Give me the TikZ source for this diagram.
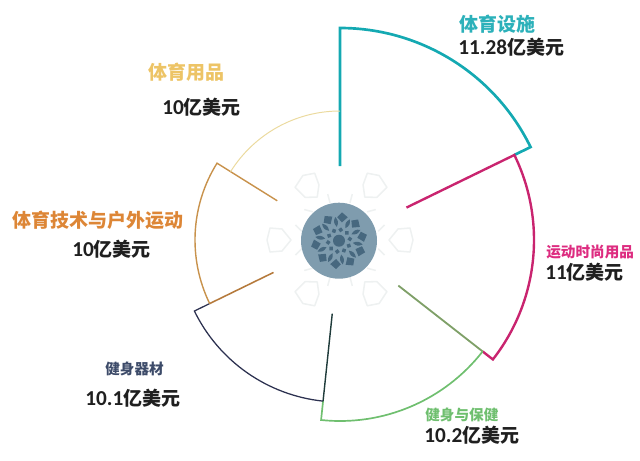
\documentclass[tikz,border=0pt]{standalone}
\usepackage{fontspec}
\setmainfont{Noto Sans CJK SC}
\newfontfamily\numfont{Carlito}[Scale=1.12]
\definecolor{cteal}{HTML}{14A9B2}
\definecolor{cmagenta}{HTML}{C9246F}
\definecolor{colive}{HTML}{7FA068}
\definecolor{cgreen}{HTML}{6FBF6F}
\definecolor{cnavy}{HTML}{2C3150}
\definecolor{cdark}{HTML}{1F3B3A}
\definecolor{cbrown}{HTML}{B57A3C}
\definecolor{corange}{HTML}{C8924C}
\definecolor{cyellow}{HTML}{EBDA9E}
\definecolor{tyellow}{HTML}{EDC466}
\definecolor{torange}{HTML}{DD8636}
\definecolor{tmagenta}{HTML}{DD2C80}
\definecolor{tnavy}{HTML}{3D4B69}
\definecolor{ldisc}{HTML}{7F9CAE}
\definecolor{ldark}{HTML}{47687F}
\definecolor{lpale}{HTML}{EEF1F1}
\tikzset{
    big/.style={font=\fontsize{13.5}{16}\selectfont\bfseries, inner sep=0pt, anchor=west},
    small/.style={font=\fontsize{10.4}{12}\selectfont\bfseries, inner sep=0pt, anchor=west},
    val/.style={style=big, text=black!88},
    r/.style={line width=#1, line join=miter}, % ring pieces
    pale/.style={draw=lpale, line width=1.1pt, line join=round} % marks round the disc
}
\begin{document}
\begin{tikzpicture}[x=0.25mm, y=0.25mm]
        \useasboundingbox (-340, -220) rectangle (300, 240);

        \coordinate (tealin) at (90:74);
        \coordinate (tealtop) at (90:212);
        \coordinate (tealend) at (26:194);
        \coordinate (magin) at (26:74);
        \coordinate (magend) at (-38:181);
        \coordinate (grnin) at (-38:74);
        \coordinate (grnend) at (-96:162);
        \coordinate (drkin) at (-96:74);
        \coordinate (navend) at (-154:145);
        \coordinate (brnin) at (-154:74);
        \coordinate (orgin) at (148:74);
        \coordinate (orgtop) at (148:145);
        \coordinate (yelstart) at (148:129);

        \draw[r=1.9pt, cteal] (tealin) -- (tealtop)
        arc[start angle=90, end angle=26, radius=212] -- (tealend);
        \draw[r=1.7pt, cmagenta] (magin) -- (tealend)
        arc[start angle=26, end angle=-38, radius=194] -- (magend);
        \draw[r=1.3pt, colive] (grnin) -- (magend);
        \draw[r=1.2pt, cgreen] (magend)
        arc[start angle=-38, end angle=-96, radius=181] -- (grnend);
        \draw[r=1pt, cdark] (drkin) -- (grnend);
        \draw[r=0.9pt, cnavy] (grnend)
        arc[start angle=-96, end angle=-154, radius=162] -- (navend);
        \draw[r=1.1pt, cbrown] (brnin) -- (navend);
        \draw[r=1pt, corange] (orgin) -- (orgtop)
        arc[start angle=148, end angle=206, radius=145];
        \draw[r=0.7pt, cyellow] (yelstart)
        arc[start angle=148, end angle=90, radius=129];

        \foreach \x/\y/\t in {62/0/180, -62/0/0, 34/54/-6, -32/54/186, 34/-53/6, -32/-53/174}
        \draw[pale, shift={(\x,\y)}, rotate=\t]
        (13,0) -- (4,11) -- (-8,12) -- (-11,0) -- (-8,-12) -- (4,-11) -- cycle;

        \foreach \a/\d in {16/45, 43/15, 75/75, 105/105, 137/165, 164/135,
          -16/-45, -43/-15, -75/-75, -105/-105, -137/-165, -164/-135}
        \draw[pale, shift={(\a:43)}] (\d:-4.5) -- (\d:4.5);

        \node[circle, fill=ldisc, minimum size=76*0.25mm, inner sep=0pt] (disc) at (-1, -0.7) {};
        \begin{scope}[shift={(disc.center)}]
          \fill[ldark] (0,0) circle (6);
          \foreach \a in {9, 45, ..., 333} {
            \fill[ldark, rotate=\a] (18.5,0) -- (23,5.5) -- (28.5,1.5) -- (24.5,-5) -- cycle;
            \fill[ldark, rotate=\a+18] (14,0) .. controls (18,2.6) and (20,2.6) .. (24,0)
            .. controls (20,-2.6) and (18,-2.6) .. cycle;
            \fill[ldark, rotate=\a] (8.5,0) -- (11,2.5) -- (13.5,0) -- (11,-2.5) -- cycle;
          }
        \end{scope}

        \node[big, text=cteal!90!white] (n1) at (119, 216) {体育设施};
        \node[val] (v1) at (118, 193) {{\numfont 11.28}亿美元};
        \node[small, text=tmagenta] (n2) at (206, -12) {运动时尚用品};
        \node[val] (v2) at (205, -32) {{\numfont 11}亿美元};
        \node[small, text=cgreen] (n3) at (85, -175) {健身与保健};
        \node[val] (v3) at (84, -195) {{\numfont 10.2}亿美元};
        \node[small, text=tnavy] (n4) at (-235, -129) {健身器材};
        \node[val] (v4) at (-255, -158) {{\numfont 10.1}亿美元};
        \node[big, text=torange] (n5) at (-328, 20) {体育技术与户外运动};
        \node[val] (v5) at (-268, -9) {{\numfont 10}亿美元};
        \node[big, text=tyellow] (n6) at (-192, 168) {体育用品};
        \node[val] (v6) at (-178, 133) {{\numfont 10}亿美元};
      \end{tikzpicture}
\end{document}
